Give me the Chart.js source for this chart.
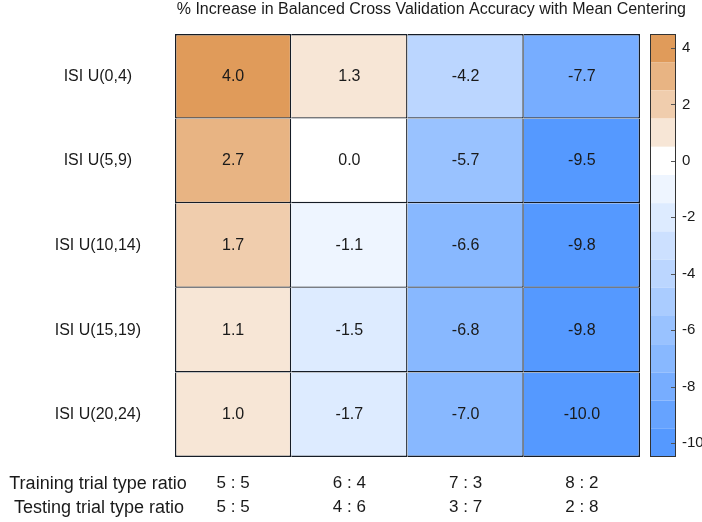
<!DOCTYPE html>
<html>
<head>
<meta charset="utf-8">
<script src="https://cdn.jsdelivr.net/npm/chart.js@4.4.1/dist/chart.umd.min.js"></script>
<style>
  html, body { margin: 0; padding: 0; background: #fff; }
  #wrap { width: 702px; height: 522px; }
</style>
</head>
<body>
<div id="wrap"><canvas id="heat" width="702" height="522"></canvas></div>
<script>
// ─── data ───
const rowLabels = ['ISI U(0,4)', 'ISI U(5,9)', 'ISI U(10,14)', 'ISI U(15,19)', 'ISI U(20,24)'];
const trainRatios = ['5 : 5', '6 : 4', '7 : 3', '8 : 2'];
const testRatios = ['5 : 5', '4 : 6', '3 : 7', '2 : 8'];

const isi0 = [4.0, 1.3, -4.2, -7.7];
const isi5 = [2.7, 0.0, -5.7, -9.5];
const isi10 = [1.7, -1.1, -6.6, -9.8];
const isi15 = [1.1, -1.5, -6.8, -9.8];
const isi20 = [1.0, -1.7, -7.0, -10.0];
const rows = [isi0, isi5, isi10, isi15, isi20];

const cbTicks = [4, 2, 0, -2, -4, -6, -8, -10];
const cbBands = [4, 3, 2, 1, 0, -1, -2, -3, -4, -5, -6, -7, -8, -9, -10];

const titleText = '% Increase in Balanced Cross Validation Accuracy with Mean Centering';

// ─── colours ───
const ORANGE = [224, 155, 90];
const BLUE = [85, 153, 255];
const TEXT = '#1a1a1a';
const LINE = '#151c26';
const FONT = "'Liberation Sans', Arial, sans-serif";

function bandOf(v) {
    // round half away from zero
    return Math.sign(v) * Math.round(Math.abs(v));
}

function bandColor(b) {
    let end = ORANGE, t = b / 4;
    if (b < 0) { end = BLUE; t = -b / 10; }
    const c = end.map(e => Math.round(255 + (e - 255) * t));
    return `rgb(${c[0]},${c[1]},${c[2]})`;
}

// no extra label padding on the axes
function noPad(axis) {
    axis.paddingTop = 0;
    axis.paddingBottom = 0;
    axis.paddingLeft = 0;
    axis.paddingRight = 0;
}

// cell text
const cellLabels = {
    id: 'cellLabels',
    afterDatasetsDraw(chart) {
        const ctx = chart.ctx;
        ctx.save();
        ctx.font = `16px ${FONT}`;
        ctx.fillStyle = TEXT;
        ctx.textAlign = 'center';
        ctx.textBaseline = 'middle';
        chart.data.datasets.forEach((ds, di) => {
            chart.getDatasetMeta(di).data.forEach((bar, i) => {
                const p = bar.getCenterPoint();
                ctx.fillText(ds.values[i].toFixed(1), p.x, p.y);
            });
        });
        ctx.restore();
    }
};

// colorbar on the right axis, title, bottom row titles
const extras = {
    id: 'extras',
    afterDraw(chart) {
        const ctx = chart.ctx;
        const cb = chart.scales.cb;
        const area = chart.chartArea;
        const x0 = area.right + 10, w = 25;
        ctx.save();
        cbBands.forEach(b => {
            const y1 = cb.getPixelForValue(b + 0.5);
            const y2 = cb.getPixelForValue(b - 0.5);
            ctx.fillStyle = bandColor(b);
            ctx.fillRect(x0, y1, w, y2 - y1);
        });
        const top = cb.getPixelForValue(cbBands[0] + 0.5);
        const bot = cb.getPixelForValue(cbBands[cbBands.length - 1] - 0.5);
        ctx.strokeStyle = '#333';
        ctx.lineWidth = 1;
        ctx.strokeRect(x0 + 0.5, Math.round(top) + 0.5, w, Math.round(bot - top) - 1);
        ctx.strokeStyle = '#555';
        cbTicks.forEach(t => {
            const y = Math.round(cb.getPixelForValue(t)) + 0.5;
            ctx.beginPath();
            ctx.moveTo(x0 + w - 4, y);
            ctx.lineTo(x0 + w, y);
            ctx.stroke();
        });

        ctx.fillStyle = TEXT;
        ctx.textBaseline = 'middle';
        ctx.font = `16px ${FONT}`;
        ctx.textAlign = 'right';
        ctx.fillText(titleText, 686, 10);
        ctx.font = `18px ${FONT}`;
        ctx.textAlign = 'center';
        ctx.fillText('Training trial type ratio', 98, area.bottom + 27);
        ctx.fillText('Testing trial type ratio', 99, area.bottom + 51);
        ctx.restore();
    }
};

new Chart(document.getElementById('heat'), {
    type: 'bar',
    data: {
        labels: trainRatios.map((t, i) => [t, testRatios[i]]),
        datasets: rows.map((r, ri) => ({
            label: rowLabels[ri],
            values: r,
            data: r.map(() => 1),
            backgroundColor: r.map(v => bandColor(bandOf(v))),
            borderColor: LINE,
            borderWidth: (c) => ({
                top: c.datasetIndex === 0 ? 1.4 : 0,
                left: c.dataIndex === 0 ? 1.4 : 0,
                right: 1.4,
                bottom: 1.4
            }),
            borderSkipped: false,
            inflateAmount: 0,
            barPercentage: 1,
            categoryPercentage: 1
        }))
    },
    plugins: [cellLabels, extras],
    options: {
        responsive: false,
        animation: false,
        layout: { padding: { left: 0, right: 0, top: 34, bottom: 0 } },
        plugins: {
            legend: { display: false },
            tooltip: { enabled: false },
            title: { display: false }
        },
        scales: {
            x: {
                stacked: true,
                grid: { display: false, drawTicks: false },
                border: { display: false },
                afterFit: (axis) => { noPad(axis); axis.height = 65; },
                ticks: {
                    autoSkip: false,
                    maxRotation: 0,
                    padding: 14.5,
                    color: TEXT,
                    font: { family: FONT, size: 17, lineHeight: 24 / 17 }
                }
            },
            y: {
                stacked: true,
                reverse: true,
                min: 0,
                max: rowLabels.length,
                grid: { display: false, drawTicks: false },
                border: { display: false },
                afterFit: (axis) => { noPad(axis); axis.width = 175; },
                afterBuildTicks: (axis) => {
                    axis.ticks = rowLabels.map((_, i) => ({ value: i + 0.5 }));
                },
                ticks: {
                    crossAlign: 'center',
                    padding: 34,
                    color: TEXT,
                    font: { family: FONT, size: 16 },
                    callback: (v, i) => rowLabels[i]
                }
            },
            cb: {
                type: 'linear',
                position: 'right',
                min: -10.5,
                max: 4.5,
                grid: { display: false, drawTicks: false },
                border: { display: false },
                afterFit: (axis) => { noPad(axis); axis.width = 62; },
                afterBuildTicks: (axis) => {
                    axis.ticks = cbTicks.map(v => ({ value: v }));
                },
                ticks: {
                    padding: 42,
                    color: TEXT,
                    font: { family: FONT, size: 15 }
                }
            }
        }
    }
});
</script>
</body>
</html>
